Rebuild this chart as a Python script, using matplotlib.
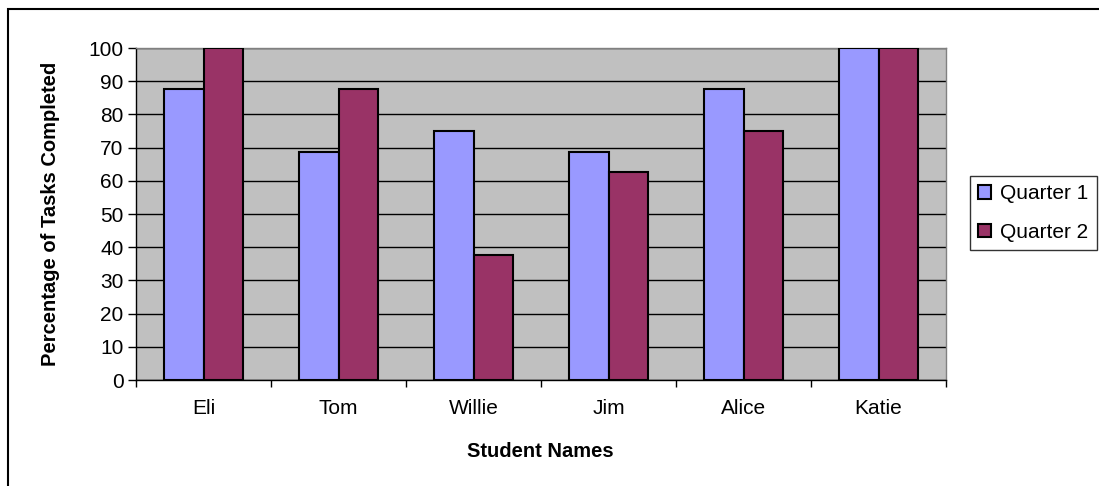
import numpy as np
import matplotlib
matplotlib.use("Agg")
import matplotlib.pyplot as plt
from matplotlib.patches import Rectangle

students = ["Eli", "Tom", "Willie", "Jim", "Alice", "Katie"]
quarter1 = [87.5, 68.75, 75, 68.75, 87.5, 100]
quarter2 = [100, 87.5, 37.5, 62.5, 75, 100]
series_labels = ["Quarter 1", "Quarter 2"]
yticks = list(range(0, 101, 10))

BLUE = "#9999FF"
MAROON = "#993366"
PLOT_BG = "#C0C0C0"
FS = 15       # tick labels / legend
FS_LAB = 14.5 # axis titles

plt.rcParams["font.family"] = ["Liberation Sans", "DejaVu Sans"]

W, H = 1099, 486
fig = plt.figure(figsize=(W / 100, H / 100), dpi=100)
ax = fig.add_axes([136 / W, 1 - 380 / H, (946 - 136) / W, (380 - 48) / H])
ax.set_facecolor(PLOT_BG)

x = np.arange(len(students))
bw = 0.295
ax.bar(x - bw / 2, quarter1, bw, color=BLUE, edgecolor="black", linewidth=1.5,
       label=series_labels[0], zorder=3)
ax.bar(x + bw / 2, quarter2, bw, color=MAROON, edgecolor="black", linewidth=1.5,
       label=series_labels[1], zorder=3)

ax.set_xlim(-0.5, len(students) - 0.5)
ax.set_ylim(0, 100)
ax.set_yticks(yticks)
ax.yaxis.grid(True, color="black", linewidth=1.0, zorder=1)
ax.set_axisbelow(True)

# category labels centred, ticks on category boundaries
ax.set_xticks(x)
ax.set_xticklabels(students, fontsize=FS)
ax.tick_params(axis="x", which="major", length=0, pad=14)
ax.set_xticks(np.arange(-0.5, len(students)), minor=True)
ax.tick_params(axis="x", which="minor", length=5, width=1, direction="out")
ax.tick_params(axis="y", length=6, width=1, direction="out", labelsize=FS, pad=3)

for side in ["top", "right"]:
    ax.spines[side].set_color("#808080")
    ax.spines[side].set_linewidth(1)
for side in ["left", "bottom"]:
    ax.spines[side].set_color("black")
    ax.spines[side].set_linewidth(1)

ax.set_xlabel("Student Names", fontsize=FS_LAB, fontweight="bold")
ax.xaxis.set_label_coords((540 - 136) / (946 - 136), -(451 - 380) / (380 - 48))
ax.xaxis.label.set_va("center")
ax.set_ylabel("Percentage of Tasks Completed", fontsize=FS_LAB, fontweight="bold")
ax.yaxis.set_label_coords(-(136 - 51) / (946 - 136), 0.5)
ax.yaxis.label.set_va("center")

leg = ax.legend(loc="upper left", bbox_to_anchor=(970 / W, 1 - 176 / H),
                bbox_transform=fig.transFigure, fontsize=FS, frameon=True,
                fancybox=False, edgecolor="black", handlelength=0.6,
                handleheight=0.6, handletextpad=0.45, borderpad=0.4,
                labelspacing=0.95, borderaxespad=0)
leg.get_frame().set_linewidth(1)

# outer chart border
fig.patches.append(Rectangle((8 / W, -0.1), 1.2, 1 - 9 / H + 0.1,
                             transform=fig.transFigure, fill=False,
                             edgecolor="black", linewidth=1.5))

fig.savefig("out.png", dpi=100)
